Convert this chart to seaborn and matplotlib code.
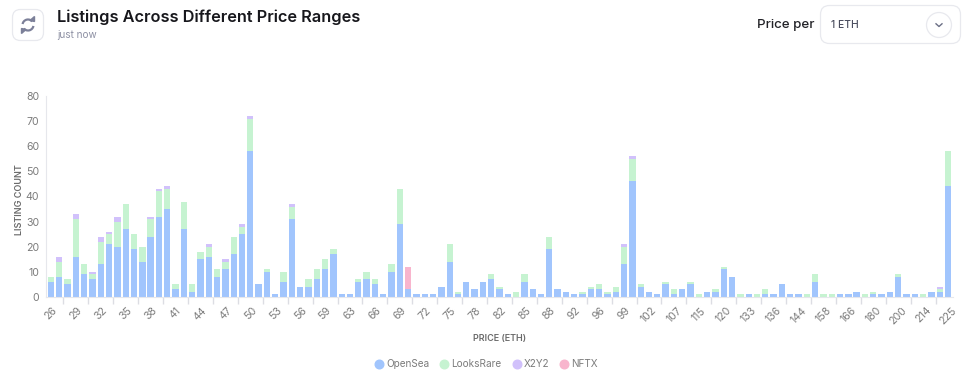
#!/usr/bin/env python3
# Listings across price ranges, stacked by marketplace

import matplotlib
matplotlib.use('Agg')
import numpy as np
import pandas as pd
import matplotlib.pyplot as plt
import seaborn as sns
from matplotlib.lines import Line2D
from matplotlib.patches import Arc, Circle, FancyBboxPatch, Polygon

# values by bar, left to right (109 price buckets)
opensea = [6, 8, 5, 16, 9, 7, 13, 21, 20, 27, 19, 14, 24, 32, 35, 3, 27, 2, 15, 16, 8, 11, 17, 25, 58, 5, 10, 1, 6, 31,
           4, 4, 7, 11, 17, 1, 1, 6, 7, 5, 1, 10, 29, 3, 1, 1, 1, 4, 14, 1, 6, 3, 6, 7, 3, 1, 0, 6, 3, 1,
           19, 3, 2, 1, 1, 3, 3, 1, 2, 13, 46, 4, 2, 1, 5, 1, 3, 5, 0, 2, 2, 11, 8, 0, 1, 0, 1, 1, 5, 1,
           1, 0, 6, 0, 0, 1, 1, 2, 0, 1, 1, 2, 8, 1, 1, 0, 2, 2, 44]
looksrare = [2, 6, 2, 15, 4, 2, 9, 4, 10, 10, 6, 6, 7, 10, 8, 2, 11, 3, 3, 4, 3, 3, 7, 3, 13, 0, 1, 0, 4, 5,
             0, 3, 4, 4, 2, 0, 0, 1, 3, 2, 0, 3, 14, 0, 0, 0, 0, 0, 7, 1, 0, 0, 0, 2, 1, 0, 2, 3, 0, 0,
             5, 0, 0, 0, 1, 1, 2, 1, 2, 7, 9, 1, 0, 0, 1, 2, 0, 1, 1, 0, 1, 1, 0, 1, 0, 1, 2, 0, 0, 0,
             0, 1, 3, 1, 1, 0, 0, 0, 1, 1, 0, 0, 1, 0, 0, 1, 0, 1, 14]
x2y2 = [0, 2, 0, 2, 0, 1, 2, 1, 2, 0, 0, 0, 1, 1, 1, 0, 0, 0, 0, 1, 0, 1, 0, 1, 1, 0, 0, 0, 0, 1,
        0, 0, 0, 0, 0, 0, 0, 0, 0, 0, 0, 0, 0, 0, 0, 0, 0, 0, 0, 0, 0, 0, 0, 0, 0, 0, 0, 0, 0, 0,
        0, 0, 0, 0, 0, 0, 0, 0, 0, 1, 1, 0, 0, 0, 0, 0, 0, 0, 0, 0, 0, 0, 0, 0, 0, 0, 0, 0, 0, 0,
        0, 0, 0, 0, 0, 0, 0, 0, 0, 0, 0, 0, 0, 0, 0, 0, 0, 1, 0]
nftx = [0] * 43 + [9] + [0] * 65

# every third bucket gets a label
price_labels = ['26', '29', '32', '35', '38', '41', '44', '47', '50', '53', '56', '59', '63', '66', '69', '72', '75',
                '78', '82', '85', '88', '92', '96', '99', '102', '107', '115', '120', '133', '136', '144', '158',
                '166', '180', '200', '214', '225']
y_ticks = [0, 10, 20, 30, 40, 50, 60, 70, 80]

series_names = ['OpenSea', 'LooksRare', 'X2Y2', 'NFTX']
series_colors = ['#a1c5fd', '#c6f3d1', '#d1c1fb', '#f8b5cd']

plt.rcParams['font.family'] = ['Inter', 'DejaVu Sans']

df = pd.DataFrame({'OpenSea': opensea, 'LooksRare': looksrare, 'X2Y2': x2y2, 'NFTX': nftx})
df['bucket'] = range(len(df))

fig = plt.figure(figsize=(9.73, 3.91), dpi=100)
ax = fig.add_axes([46 / 973, 1 - 297 / 391, (953 - 46) / 973, 201 / 391])

# stack the series by hand, seaborn's barplot passes bottom on to ax.bar
bottom = np.zeros(len(df))
for name, color in zip(series_names, series_colors):
    sns.barplot(data=df, x='bucket', y=name, color=color, saturation=1, width=0.76,
                bottom=bottom, native_scale=True, ax=ax, linewidth=0)
    bottom = bottom + df[name].values

ax.set_xlabel('')
ax.set_ylabel('')
ax.set_xlim(-0.6, 108.6)
ax.set_ylim(0, 80)
ax.set_yticks(y_ticks)
ax.tick_params(axis='y', length=0, labelsize=7.6, labelcolor='#7b7b7b', pad=5)

label_pos = np.arange(0, len(df), 3)
ax.set_xticks(label_pos)
ax.set_xticklabels(price_labels, rotation=45, ha='center', rotation_mode='default')
ax.set_xticks(label_pos[:-1] + 1.5, minor=True)
ax.tick_params(axis='x', which='major', length=0, labelsize=7.6, labelcolor='#7b7b7b', pad=6)
ax.tick_params(axis='x', which='minor', bottom=True, length=5, width=1, color='#dcdde3')

for side in ['top', 'right']:
    ax.spines[side].set_visible(False)
for side in ['left', 'bottom']:
    ax.spines[side].set_color('#e6e7ec')
    ax.spines[side].set_linewidth(0.8)

fig.text(19 / 973, 1 - 200 / 391, 'LISTING COUNT', rotation=90, ha='center', va='center',
         fontsize=6.5, fontweight='semibold', color='#6b6b6b')
fig.text(500 / 973, 1 - 338 / 391, 'PRICE (ETH)', ha='center', va='center',
         fontsize=6.5, fontweight='semibold', color='#6b6b6b')

handles = [Line2D([], [], marker='o', linestyle='', markersize=6.2, color=c, label=n)
           for n, c in zip(series_names, series_colors)]
leg = fig.legend(handles=handles, loc='center', bbox_to_anchor=(487 / 973, 1 - 364 / 391), ncols=4, frameon=False,
                 fontsize=7.2, handlelength=0.6, handletextpad=0.4, columnspacing=1.2, labelcolor='#7b7b7b')

# page furniture in pixel coordinates
over = fig.add_axes([0, 0, 1, 1], facecolor='none')
over.set_xlim(0, 973)
over.set_ylim(391, 0)
over.axis('off')

over.add_patch(FancyBboxPatch((12.5, 9.5), 31, 31, boxstyle='round,pad=0,rounding_size=8',
                              fc='white', ec='#e8e9ee', lw=0.9))
icon = '#7c8099'
over.add_patch(Arc((28, 25), 11, 11, theta1=190, theta2=320, color=icon, lw=1.6))
over.add_patch(Arc((28, 25), 11, 11, theta1=10, theta2=140, color=icon, lw=1.6))
over.add_patch(Polygon([[30, 20.5], [34.5, 21.5], [34.5, 16.5]], color=icon))
over.add_patch(Polygon([[26, 29.5], [21.5, 28.5], [21.5, 33.5]], color=icon))

over.text(57, 17.5, 'Listings Across Different Price Ranges', fontsize=11.75, fontweight='semibold',
          color='#17171c', ha='left', va='center')
over.text(57, 35, 'just now', fontsize=7.2, color='#8d90a3', ha='left', va='center')

over.text(757, 25, 'Price per', fontsize=9.6, fontweight='medium', color='#222227', ha='left', va='center')
over.add_patch(FancyBboxPatch((820.5, 5.5), 140, 38, boxstyle='round,pad=0,rounding_size=9',
                              fc='white', ec='#e8e9ee', lw=0.9))
over.text(831, 25, '1 ETH', fontsize=7.4, fontweight='medium', color='#4a4d5e', ha='left', va='center')
over.add_patch(Circle((939, 25), 12.5, fc='white', ec='#e8e9ee', lw=0.9))
over.plot([936, 939, 942], [23.8, 26.5, 23.8], color='#6b6f85', lw=1.0)

fig.savefig('out.png', dpi=100)
